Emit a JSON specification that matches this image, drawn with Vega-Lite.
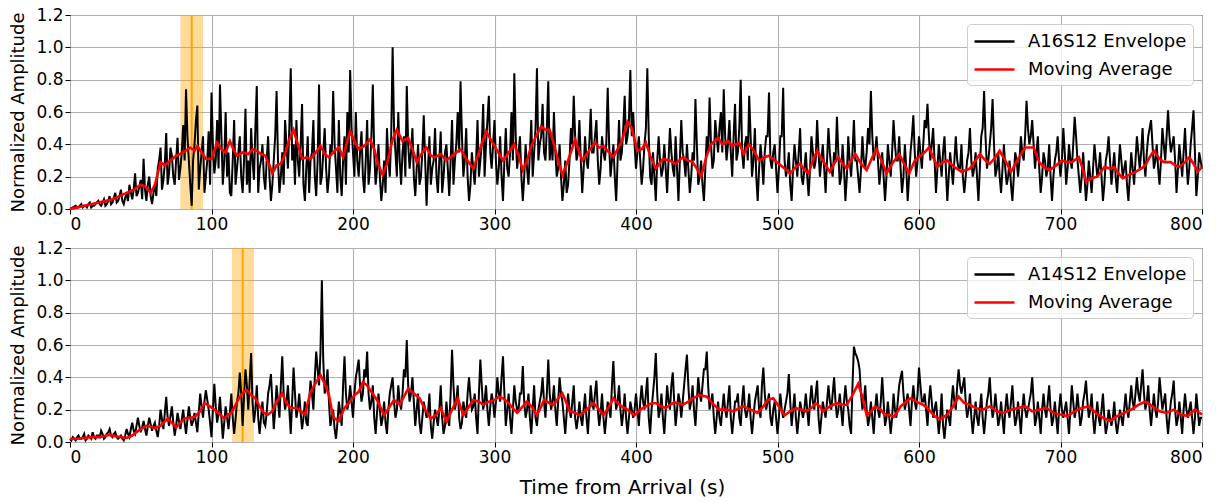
{
"$schema":"https://vega.github.io/schema/vega-lite/v6.json",
"padding":{"left":9,"top":5,"right":5,"bottom":3},
"background":"white",
"spacing":39,
"bounds":"flush",
"resolve":{"scale":{"color":"independent"},"legend":{"color":"independent"}},
"config":{
 "view":{"stroke":"black","strokeWidth":1},
 "axis":{"grid":true,"gridColor":"#b0b0b0","gridWidth":1.1,"domain":false,"tickColor":"black","tickSize":5,"tickWidth":1,"labelPadding":2,"labelFont":"DejaVu Sans","labelFontSize":17,"labelColor":"black","titleFont":"DejaVu Sans","titleFontSize":18,"titleFontWeight":"normal","titleColor":"black"},
 "legend":{"orient":"top-right","offset":9,"padding":6,"cornerRadius":4,"strokeColor":"#cccccc","fillColor":"rgba(255,255,255,0.8)","labelFont":"DejaVu Sans","labelFontSize":18,"labelColor":"black","symbolType":"M-1,0H3","symbolSize":400,"symbolStrokeWidth":2.5,"labelOffset":32,"rowPadding":7}
},
"datasets":{
"env":[{"t":0,"a":0,"b":0.02},{"t":2,"a":0.01,"b":0.03},{"t":4,"a":0.02,"b":0.01},{"t":6,"a":0.01,"b":0.04},{"t":8,"a":0.03,"b":0.02},{"t":10,"a":0.02,"b":0.05},{"t":12,"a":0.01,"b":0.02},{"t":14,"a":0.04,"b":0.03},{"t":16,"a":0.02,"b":0.06},{"t":18,"a":0.03,"b":0.02},
{"t":20,"a":0.05,"b":0.04},{"t":22,"a":0.02,"b":0.07},{"t":24,"a":0.06,"b":0.02},{"t":26,"a":0.03,"b":0.05},{"t":28,"a":0.08,"b":0.08},{"t":30,"a":0.04,"b":0.03},{"t":32,"a":0.1,"b":0.06},{"t":34,"a":0.05,"b":0.02},{"t":36,"a":0.12,"b":0.04},{"t":38,"a":0.03,"b":0.01},
{"t":40,"a":0.09,"b":0.08},{"t":42,"a":0.15,"b":0.03},{"t":44,"a":0.06,"b":0.12},{"t":46,"a":0.22,"b":0.05},{"t":48,"a":0.1,"b":0.15},{"t":50,"a":0.18,"b":0.06},{"t":52,"a":0.31,"b":0.13},{"t":54,"a":0.05,"b":0.04},{"t":56,"a":0.2,"b":0.15},{"t":58,"a":0.03,"b":0.07},
{"t":60,"a":0.15,"b":0.12},{"t":62,"a":0.25,"b":0.03},{"t":64,"a":0.38,"b":0.2},{"t":66,"a":0.18,"b":0.08},{"t":68,"a":0.47,"b":0.28},{"t":70,"a":0.22,"b":0.1},{"t":72,"a":0.33,"b":0.22},{"t":74,"a":0.15,"b":0.04},{"t":76,"a":0.44,"b":0.18},{"t":78,"a":0.25,"b":0.08},
{"t":80,"a":0.52,"b":0.2},{"t":82,"a":0.74,"b":0.05},{"t":84,"a":0.3,"b":0.22},{"t":86,"a":0.02,"b":0.1},{"t":88,"a":0.4,"b":0.18},{"t":90,"a":0.64,"b":0.06},{"t":92,"a":0.25,"b":0.3},{"t":94,"a":0.45,"b":0.15},{"t":96,"a":0.2,"b":0.32},{"t":98,"a":0.48,"b":0.2},
{"t":100,"a":0.72,"b":0.03},{"t":102,"a":0.22,"b":0.36},{"t":104,"a":0.55,"b":0.12},{"t":106,"a":0.77,"b":0.28},{"t":108,"a":0.15,"b":0.02},{"t":110,"a":0.6,"b":0.22},{"t":112,"a":0.35,"b":0.08},{"t":114,"a":0.08,"b":0.3},{"t":116,"a":0.55,"b":0.05},{"t":118,"a":0.25,"b":0.25},
{"t":120,"a":0.45,"b":0.43},{"t":122,"a":0.1,"b":0.1},{"t":124,"a":0.62,"b":0.45},{"t":126,"a":0.3,"b":0.2},{"t":128,"a":0.5,"b":0.55},{"t":130,"a":0.18,"b":0.12},{"t":132,"a":0.76,"b":0.35},{"t":134,"a":0.25,"b":0.05},{"t":136,"a":0.4,"b":0.25},{"t":138,"a":0.12,"b":0.1},
{"t":140,"a":0.45,"b":0.3},{"t":142,"a":0.05,"b":0.42},{"t":144,"a":0.3,"b":0.08},{"t":146,"a":0.73,"b":0.35},{"t":148,"a":0.1,"b":0.15},{"t":150,"a":0.35,"b":0.53},{"t":152,"a":0.55,"b":0.2},{"t":154,"a":0.25,"b":0.35},{"t":156,"a":0.87,"b":0.05},{"t":158,"a":0.4,"b":0.46},
{"t":160,"a":0.55,"b":0.15},{"t":162,"a":0.2,"b":0.3},{"t":164,"a":0.65,"b":0.08},{"t":166,"a":0.05,"b":0.25},{"t":168,"a":0.45,"b":0.1},{"t":170,"a":0.3,"b":0.38},{"t":172,"a":0.55,"b":0.2},{"t":174,"a":0.08,"b":0.56},{"t":176,"a":0.77,"b":0.35},{"t":178,"a":0.2,"b":1},
{"t":180,"a":0.5,"b":0.3},{"t":182,"a":0.1,"b":0.45},{"t":184,"a":0.4,"b":0.1},{"t":186,"a":0.73,"b":0.2},{"t":188,"a":0.25,"b":0.02},{"t":190,"a":0.55,"b":0.25},{"t":192,"a":0.08,"b":0.1},{"t":194,"a":0.45,"b":0.53},{"t":196,"a":0.6,"b":0.2},{"t":198,"a":0.86,"b":0.35},
{"t":200,"a":0.35,"b":0.15},{"t":202,"a":0.6,"b":0.4},{"t":204,"a":0.2,"b":0.51},{"t":206,"a":0.48,"b":0.25},{"t":208,"a":0.1,"b":0.45},{"t":210,"a":0.55,"b":0.56},{"t":212,"a":0.25,"b":0.2},{"t":214,"a":0.77,"b":0.35},{"t":216,"a":0.15,"b":0.05},{"t":218,"a":0.4,"b":0.3},
{"t":220,"a":0.05,"b":0.1},{"t":222,"a":0.3,"b":0.25},{"t":224,"a":0.5,"b":0.05},{"t":226,"a":0.2,"b":0.3},{"t":228,"a":1,"b":0.4},{"t":230,"a":0.35,"b":0.15},{"t":232,"a":0.6,"b":0.35},{"t":234,"a":0.15,"b":0.2},{"t":236,"a":0.45,"b":0.45},{"t":238,"a":0.76,"b":0.63},
{"t":240,"a":0.25,"b":0.25},{"t":242,"a":0.5,"b":0.4},{"t":244,"a":0.08,"b":0.1},{"t":246,"a":0.4,"b":0.3},{"t":248,"a":0.2,"b":0.05},{"t":250,"a":0.58,"b":0.25},{"t":252,"a":0.02,"b":0.15},{"t":254,"a":0.45,"b":0.3},{"t":256,"a":0.25,"b":0.02},{"t":258,"a":0.5,"b":0.2},
{"t":260,"a":0.1,"b":0.1},{"t":262,"a":0.48,"b":0.35},{"t":264,"a":0.2,"b":0.05},{"t":266,"a":0.4,"b":0.25},{"t":268,"a":0.08,"b":0.1},{"t":270,"a":0.55,"b":0.57},{"t":272,"a":0.3,"b":0.2},{"t":274,"a":0.6,"b":0.35},{"t":276,"a":0.79,"b":0.08},{"t":278,"a":0.2,"b":0.25},
{"t":280,"a":0.5,"b":0.15},{"t":282,"a":0.05,"b":0.4},{"t":284,"a":0.35,"b":0.2},{"t":286,"a":0.15,"b":0.3},{"t":288,"a":0.55,"b":0.05},{"t":290,"a":0.3,"b":0.51},{"t":292,"a":0.65,"b":0.2},{"t":294,"a":0.4,"b":0.35},{"t":296,"a":0.7,"b":0.1},{"t":298,"a":0.25,"b":0.3},
{"t":300,"a":0.55,"b":0.15},{"t":302,"a":0.15,"b":0.4},{"t":304,"a":0.45,"b":0.25},{"t":306,"a":0.05,"b":0.53},{"t":308,"a":0.5,"b":0.1},{"t":310,"a":0.2,"b":0.3},{"t":312,"a":0.6,"b":0.05},{"t":314,"a":0.84,"b":0.35},{"t":316,"a":0.25,"b":0.2},{"t":318,"a":0.45,"b":0.3},
{"t":320,"a":0.05,"b":0.47},{"t":322,"a":0.4,"b":0.15},{"t":324,"a":0.15,"b":0.3},{"t":326,"a":0.55,"b":0.05},{"t":328,"a":0.35,"b":0.35},{"t":330,"a":0.87,"b":0.1},{"t":332,"a":0.4,"b":0.25},{"t":334,"a":0.65,"b":0.4},{"t":336,"a":0.3,"b":0.15},{"t":338,"a":0.79,"b":0.51},
{"t":340,"a":0.45,"b":0.2},{"t":342,"a":0.6,"b":0.35},{"t":344,"a":0.2,"b":0.1},{"t":346,"a":0.4,"b":0.4},{"t":348,"a":0.05,"b":0.25},{"t":350,"a":0.3,"b":0.05},{"t":352,"a":0.15,"b":0.3},{"t":354,"a":0.5,"b":0.15},{"t":356,"a":0.7,"b":0.35},{"t":358,"a":0.3,"b":0.08},
{"t":360,"a":0.55,"b":0.25},{"t":362,"a":0.1,"b":0.1},{"t":364,"a":0.45,"b":0.3},{"t":366,"a":0.25,"b":0.05},{"t":368,"a":0.62,"b":0.35},{"t":370,"a":0.35,"b":0.2},{"t":372,"a":0.55,"b":0.38},{"t":374,"a":0.15,"b":0.1},{"t":376,"a":0.45,"b":0.3},{"t":378,"a":0.3,"b":0.05},
{"t":380,"a":0.75,"b":0.25},{"t":382,"a":0.2,"b":0.15},{"t":384,"a":0.4,"b":0.5},{"t":386,"a":0.05,"b":0.2},{"t":388,"a":0.55,"b":0.35},{"t":390,"a":0.35,"b":0.1},{"t":392,"a":0.7,"b":0.3},{"t":394,"a":0.45,"b":0.05},{"t":396,"a":0.86,"b":0.25},{"t":398,"a":0.6,"b":0.15},
{"t":400,"a":0.25,"b":0.3},{"t":402,"a":0.45,"b":0.1},{"t":404,"a":0.15,"b":0.35},{"t":406,"a":0.4,"b":0.2},{"t":408,"a":0.87,"b":0.4},{"t":410,"a":0.2,"b":0.05},{"t":412,"a":0.35,"b":0.3},{"t":414,"a":0.05,"b":0.55},{"t":416,"a":0.45,"b":0.15},{"t":418,"a":0.2,"b":0.3},
{"t":420,"a":0.4,"b":0.05},{"t":422,"a":0.1,"b":0.35},{"t":424,"a":0.5,"b":0.2},{"t":426,"a":0.25,"b":0.43},{"t":428,"a":0.45,"b":0.1},{"t":430,"a":0.05,"b":0.3},{"t":432,"a":0.55,"b":0.15},{"t":434,"a":0.3,"b":0.35},{"t":436,"a":0.4,"b":0.54},{"t":438,"a":0.1,"b":0.2},
{"t":440,"a":0.35,"b":0.35},{"t":442,"a":0.68,"b":0.1},{"t":444,"a":0.15,"b":0.4},{"t":446,"a":0.3,"b":0.25},{"t":448,"a":0.05,"b":0.45},{"t":450,"a":0.45,"b":0.56},{"t":452,"a":0.69,"b":0.2},{"t":454,"a":0.25,"b":0.3},{"t":456,"a":0.55,"b":0.05},{"t":458,"a":0.35,"b":0.25},
{"t":460,"a":0.6,"b":0.1},{"t":462,"a":0.74,"b":0.3},{"t":464,"a":0.3,"b":0.15},{"t":466,"a":0.55,"b":0.35},{"t":468,"a":0.2,"b":0.05},{"t":470,"a":0.65,"b":0.25},{"t":472,"a":0.35,"b":0.3},{"t":474,"a":0.8,"b":0.1},{"t":476,"a":0.25,"b":0.35},{"t":478,"a":0.45,"b":0.15},
{"t":480,"a":0.7,"b":0.3},{"t":482,"a":0.2,"b":0.05},{"t":484,"a":0.5,"b":0.25},{"t":486,"a":0.05,"b":0.35},{"t":488,"a":0.4,"b":0.15},{"t":490,"a":0.15,"b":0.46},{"t":492,"a":0.45,"b":0.2},{"t":494,"a":0.72,"b":0.3},{"t":496,"a":0.25,"b":0.1},{"t":498,"a":0.4,"b":0.25},
{"t":500,"a":0.1,"b":0.05},{"t":502,"a":0.45,"b":0.3},{"t":504,"a":0.75,"b":0.15},{"t":506,"a":0.2,"b":0.25},{"t":508,"a":0.35,"b":0.42},{"t":510,"a":0.05,"b":0.1},{"t":512,"a":0.4,"b":0.3},{"t":514,"a":0.2,"b":0.05},{"t":516,"a":0.5,"b":0.25},{"t":518,"a":0.15,"b":0.15},
{"t":520,"a":0.35,"b":0.3},{"t":522,"a":0.08,"b":0.1},{"t":524,"a":0.45,"b":0.35},{"t":526,"a":0.25,"b":0.2},{"t":528,"a":0.55,"b":0.38},{"t":530,"a":0.2,"b":0.05},{"t":532,"a":0.4,"b":0.25},{"t":534,"a":0.1,"b":0.15},{"t":536,"a":0.5,"b":0.35},{"t":538,"a":0.25,"b":0.2},
{"t":540,"a":0.35,"b":0.4},{"t":542,"a":0.57,"b":0.15},{"t":544,"a":0.15,"b":0.3},{"t":546,"a":0.4,"b":0.1},{"t":548,"a":0.05,"b":0.35},{"t":550,"a":0.45,"b":0.2},{"t":552,"a":0.2,"b":0.05},{"t":554,"a":0.55,"b":0.59},{"t":556,"a":0.3,"b":0.53},{"t":558,"a":0.1,"b":0.45},
{"t":560,"a":0.45,"b":0.2},{"t":562,"a":0.25,"b":0.35},{"t":564,"a":0.5,"b":0.1},{"t":566,"a":0.73,"b":0.25},{"t":568,"a":0.3,"b":0.05},{"t":570,"a":0.45,"b":0.3},{"t":572,"a":0.15,"b":0.15},{"t":574,"a":0.35,"b":0.4},{"t":576,"a":0.05,"b":0.1},{"t":578,"a":0.4,"b":0.25},
{"t":580,"a":0.2,"b":0.05},{"t":582,"a":0.55,"b":0.3},{"t":584,"a":0.3,"b":0.15},{"t":586,"a":0.45,"b":0.35},{"t":588,"a":0.1,"b":0.44},{"t":590,"a":0.4,"b":0.2},{"t":592,"a":0.05,"b":0.3},{"t":594,"a":0.35,"b":0.1},{"t":596,"a":0.58,"b":0.35},{"t":598,"a":0.2,"b":0.2},
{"t":600,"a":0.45,"b":0.46},{"t":602,"a":0.25,"b":0.25},{"t":604,"a":0.55,"b":0.3},{"t":606,"a":0.65,"b":0.1},{"t":608,"a":0.3,"b":0.35},{"t":610,"a":0.5,"b":0.15},{"t":612,"a":0.1,"b":0.25},{"t":614,"a":0.4,"b":0.05},{"t":616,"a":0.2,"b":0.3},{"t":618,"a":0.45,"b":0.02},
{"t":620,"a":0.05,"b":0.2},{"t":622,"a":0.35,"b":0.1},{"t":624,"a":0.15,"b":0.35},{"t":626,"a":0.45,"b":0.2},{"t":628,"a":0.25,"b":0.45},{"t":630,"a":0.4,"b":0.3},{"t":632,"a":0.1,"b":0.4},{"t":634,"a":0.3,"b":0.15},{"t":636,"a":0.5,"b":0.3},{"t":638,"a":0.2,"b":0.05},
{"t":640,"a":0.35,"b":0.25},{"t":642,"a":0.05,"b":0.1},{"t":644,"a":0.45,"b":0.3},{"t":646,"a":0.73,"b":0.05},{"t":648,"a":0.25,"b":0.25},{"t":650,"a":0.4,"b":0.4},{"t":652,"a":0.68,"b":0.15},{"t":654,"a":0.2,"b":0.3},{"t":656,"a":0.35,"b":0.1},{"t":658,"a":0.1,"b":0.25},
{"t":660,"a":0.4,"b":0.05},{"t":662,"a":0.15,"b":0.3},{"t":664,"a":0.3,"b":0.15},{"t":666,"a":0.05,"b":0.35},{"t":668,"a":0.35,"b":0.1},{"t":670,"a":0.2,"b":0.25},{"t":672,"a":0.45,"b":0.05},{"t":674,"a":0.3,"b":0.3},{"t":676,"a":0.67,"b":0.15},{"t":678,"a":0.4,"b":0.25},
{"t":680,"a":0.55,"b":0.4},{"t":682,"a":0.25,"b":0.1},{"t":684,"a":0.45,"b":0.25},{"t":686,"a":0.1,"b":0.05},{"t":688,"a":0.35,"b":0.3},{"t":690,"a":0.2,"b":0.15},{"t":692,"a":0.4,"b":0.35},{"t":694,"a":0.05,"b":0.1},{"t":696,"a":0.3,"b":0.25},{"t":698,"a":0.45,"b":0.05},
{"t":700,"a":0.2,"b":0.3},{"t":702,"a":0.5,"b":0.15},{"t":704,"a":0.15,"b":0.25},{"t":706,"a":0.4,"b":0.05},{"t":708,"a":0.25,"b":0.35},{"t":710,"a":0.57,"b":0.15},{"t":712,"a":0.3,"b":0.3},{"t":714,"a":0.1,"b":0.1},{"t":716,"a":0.35,"b":0.25},{"t":718,"a":0.05,"b":0.38},
{"t":720,"a":0.3,"b":0.15},{"t":722,"a":0.1,"b":0.3},{"t":724,"a":0.4,"b":0.05},{"t":726,"a":0.2,"b":0.25},{"t":728,"a":0.35,"b":0.1},{"t":730,"a":0.05,"b":0.3},{"t":732,"a":0.3,"b":0.05},{"t":734,"a":0.45,"b":0.2},{"t":736,"a":0.15,"b":0.1},{"t":738,"a":0.35,"b":0.25},
{"t":740,"a":0.1,"b":0.05},{"t":742,"a":0.4,"b":0.2},{"t":744,"a":0.2,"b":0.1},{"t":746,"a":0.3,"b":0.3},{"t":748,"a":0.05,"b":0.15},{"t":750,"a":0.35,"b":0.35},{"t":752,"a":0.15,"b":0.2},{"t":754,"a":0.45,"b":0.4},{"t":756,"a":0.25,"b":0.25},{"t":758,"a":0.5,"b":0.45},
{"t":760,"a":0.2,"b":0.2},{"t":762,"a":0.45,"b":0.35},{"t":764,"a":0.55,"b":0.1},{"t":766,"a":0.25,"b":0.3},{"t":768,"a":0.4,"b":0.15},{"t":770,"a":0.15,"b":0.4},{"t":772,"a":0.5,"b":0.2},{"t":774,"a":0.3,"b":0.3},{"t":776,"a":0.61,"b":0.05},{"t":778,"a":0.35,"b":0.25},
{"t":780,"a":0.45,"b":0.38},{"t":782,"a":0.1,"b":0.1},{"t":784,"a":0.4,"b":0.25},{"t":786,"a":0.2,"b":0.05},{"t":788,"a":0.5,"b":0.3},{"t":790,"a":0.15,"b":0.15},{"t":792,"a":0.4,"b":0.25},{"t":794,"a":0.61,"b":0.05},{"t":796,"a":0.08,"b":0.3},{"t":798,"a":0.35,"b":0.1},
{"t":800,"a":0.25,"b":0.15},
{"t":1,"a":0.005,"b":0.01},{"t":3,"a":0.015,"b":0.02},{"t":5,"a":0.01,"b":0.03},{"t":7,"a":0.02,"b":0.02},{"t":9,"a":0.01,"b":0.03},{"t":11,"a":0.02,"b":0.01},{"t":13,"a":0.03,"b":0.04},{"t":15,"a":0.01,"b":0.02},{"t":17,"a":0.02,"b":0.03},{"t":19,"a":0.04,"b":0.04},
{"t":21,"a":0.03,"b":0.03},{"t":23,"a":0.04,"b":0.05},{"t":25,"a":0.02,"b":0.03},{"t":27,"a":0.05,"b":0.06},{"t":29,"a":0.03,"b":0.04},{"t":31,"a":0.07,"b":0.05},{"t":33,"a":0.04,"b":0.03},{"t":35,"a":0.08,"b":0.03},{"t":37,"a":0.05,"b":0.02},{"t":39,"a":0.07,"b":0.04},
{"t":41,"a":0.05,"b":0.05},{"t":43,"a":0.1,"b":0.08},{"t":45,"a":0.12,"b":0.07},{"t":47,"a":0.08,"b":0.1},{"t":49,"a":0.14,"b":0.1},{"t":51,"a":0.06,"b":0.09},{"t":53,"a":0.12,"b":0.08},{"t":55,"a":0.15,"b":0.1},{"t":57,"a":0.08,"b":0.11},{"t":59,"a":0.1,"b":0.1},
{"t":61,"a":0.08,"b":0.07},{"t":63,"a":0.3,"b":0.1},{"t":65,"a":0.12,"b":0.14},{"t":67,"a":0.28,"b":0.18},{"t":69,"a":0.15,"b":0.15},{"t":71,"a":0.38,"b":0.16},{"t":73,"a":0.2,"b":0.12},{"t":75,"a":0.3,"b":0.1},{"t":77,"a":0.18,"b":0.13},{"t":79,"a":0.35,"b":0.14},
{"t":81,"a":0.3,"b":0.12},{"t":83,"a":0.45,"b":0.14},{"t":85,"a":0.15,"b":0.15},{"t":87,"a":0.3,"b":0.13},{"t":89,"a":0.55,"b":0.12},{"t":91,"a":0.12,"b":0.18},{"t":93,"a":0.35,"b":0.22},{"t":95,"a":0.1,"b":0.25},{"t":97,"a":0.3,"b":0.26},{"t":99,"a":0.15,"b":0.12},
{"t":101,"a":0.4,"b":0.2},{"t":103,"a":0.3,"b":0.22},{"t":105,"a":0.25,"b":0.18},{"t":107,"a":0.45,"b":0.15},{"t":109,"a":0.3,"b":0.12},{"t":111,"a":0.2,"b":0.15},{"t":113,"a":0.1,"b":0.18},{"t":115,"a":0.3,"b":0.15},{"t":117,"a":0.15,"b":0.14},{"t":119,"a":0.35,"b":0.3},
{"t":121,"a":0.2,"b":0.3},{"t":123,"a":0.3,"b":0.28},{"t":125,"a":0.15,"b":0.35},{"t":127,"a":0.1,"b":0.38},{"t":129,"a":0.3,"b":0.25},{"t":131,"a":0.5,"b":0.2},{"t":133,"a":0.1,"b":0.15},{"t":135,"a":0.3,"b":0.15},{"t":137,"a":0.2,"b":0.12},{"t":139,"a":0.3,"b":0.18},
{"t":141,"a":0.2,"b":0.35},{"t":143,"a":0.15,"b":0.25},{"t":145,"a":0.45,"b":0.2},{"t":147,"a":0.3,"b":0.25},{"t":149,"a":0.2,"b":0.35},{"t":151,"a":0.15,"b":0.3},{"t":153,"a":0.4,"b":0.25},{"t":155,"a":0.5,"b":0.2},{"t":157,"a":0.3,"b":0.25},{"t":159,"a":0.15,"b":0.3},
{"t":161,"a":0.3,"b":0.2},{"t":163,"a":0.4,"b":0.18},{"t":165,"a":0.15,"b":0.15},{"t":167,"a":0.25,"b":0.12},{"t":169,"a":0.1,"b":0.25},{"t":171,"a":0.35,"b":0.3},{"t":173,"a":0.2,"b":0.4},{"t":175,"a":0.3,"b":0.45},{"t":177,"a":0.15,"b":0.55},{"t":179,"a":0.35,"b":0.5},
{"t":181,"a":0.25,"b":0.35},{"t":183,"a":0.2,"b":0.25},{"t":185,"a":0.35,"b":0.15},{"t":187,"a":0.4,"b":0.08},{"t":189,"a":0.1,"b":0.12},{"t":191,"a":0.2,"b":0.18},{"t":193,"a":0.3,"b":0.35},{"t":195,"a":0.15,"b":0.3},{"t":197,"a":0.35,"b":0.25},{"t":199,"a":0.5,"b":0.25},
{"t":201,"a":0.2,"b":0.3},{"t":203,"a":0.3,"b":0.45},{"t":205,"a":0.35,"b":0.35},{"t":207,"a":0.2,"b":0.3},{"t":209,"a":0.3,"b":0.4},{"t":211,"a":0.15,"b":0.3},{"t":213,"a":0.45,"b":0.25},{"t":215,"a":0.35,"b":0.15},{"t":217,"a":0.25,"b":0.18},{"t":219,"a":0.2,"b":0.2},
{"t":221,"a":0.15,"b":0.15},{"t":223,"a":0.1,"b":0.12},{"t":225,"a":0.3,"b":0.2},{"t":227,"a":0.45,"b":0.35},{"t":229,"a":0.5,"b":0.25},{"t":231,"a":0.2,"b":0.2},{"t":233,"a":0.3,"b":0.25},{"t":235,"a":0.35,"b":0.3},{"t":237,"a":0.2,"b":0.4},{"t":239,"a":0.4,"b":0.35},
{"t":241,"a":0.35,"b":0.3},{"t":243,"a":0.2,"b":0.25},{"t":245,"a":0.25,"b":0.2},{"t":247,"a":0.15,"b":0.12},{"t":249,"a":0.35,"b":0.15},{"t":251,"a":0.3,"b":0.2},{"t":253,"a":0.25,"b":0.18},{"t":255,"a":0.15,"b":0.1},{"t":257,"a":0.3,"b":0.12},{"t":259,"a":0.2,"b":0.15},
{"t":261,"a":0.3,"b":0.2},{"t":263,"a":0.1,"b":0.15},{"t":265,"a":0.35,"b":0.1},{"t":267,"a":0.25,"b":0.15},{"t":269,"a":0.3,"b":0.3},{"t":271,"a":0.15,"b":0.35},{"t":273,"a":0.4,"b":0.25},{"t":275,"a":0.35,"b":0.15},{"t":277,"a":0.45,"b":0.12},{"t":279,"a":0.3,"b":0.2},
{"t":281,"a":0.2,"b":0.3},{"t":283,"a":0.15,"b":0.28},{"t":285,"a":0.25,"b":0.22},{"t":287,"a":0.3,"b":0.15},{"t":289,"a":0.2,"b":0.3},{"t":291,"a":0.4,"b":0.35},{"t":293,"a":0.2,"b":0.25},{"t":295,"a":0.55,"b":0.2},{"t":297,"a":0.35,"b":0.22},{"t":299,"a":0.4,"b":0.25},
{"t":301,"a":0.3,"b":0.25},{"t":303,"a":0.25,"b":0.3},{"t":305,"a":0.2,"b":0.4},{"t":307,"a":0.3,"b":0.3},{"t":309,"a":0.25,"b":0.2},{"t":311,"a":0.35,"b":0.15},{"t":313,"a":0.3,"b":0.2},{"t":315,"a":0.45,"b":0.25},{"t":317,"a":0.35,"b":0.2},{"t":319,"a":0.2,"b":0.3},
{"t":321,"a":0.2,"b":0.25},{"t":323,"a":0.25,"b":0.2},{"t":325,"a":0.35,"b":0.15},{"t":327,"a":0.2,"b":0.2},{"t":329,"a":0.5,"b":0.15},{"t":331,"a":0.3,"b":0.2},{"t":333,"a":0.45,"b":0.3},{"t":335,"a":0.35,"b":0.25},{"t":337,"a":0.5,"b":0.3},{"t":339,"a":0.3,"b":0.3},
{"t":341,"a":0.3,"b":0.25},{"t":343,"a":0.35,"b":0.2},{"t":345,"a":0.25,"b":0.25},{"t":347,"a":0.2,"b":0.3},{"t":349,"a":0.15,"b":0.15},{"t":351,"a":0.1,"b":0.18},{"t":353,"a":0.3,"b":0.2},{"t":355,"a":0.4,"b":0.25},{"t":357,"a":0.45,"b":0.15},{"t":359,"a":0.35,"b":0.15},
{"t":361,"a":0.3,"b":0.15},{"t":363,"a":0.25,"b":0.2},{"t":365,"a":0.3,"b":0.15},{"t":367,"a":0.4,"b":0.2},{"t":369,"a":0.35,"b":0.25},{"t":371,"a":0.45,"b":0.3},{"t":373,"a":0.3,"b":0.2},{"t":375,"a":0.25,"b":0.18},{"t":377,"a":0.35,"b":0.15},{"t":379,"a":0.4,"b":0.15},
{"t":381,"a":0.4,"b":0.2},{"t":383,"a":0.3,"b":0.35},{"t":385,"a":0.2,"b":0.3},{"t":387,"a":0.3,"b":0.25},{"t":389,"a":0.3,"b":0.2},{"t":391,"a":0.5,"b":0.18},{"t":393,"a":0.4,"b":0.15},{"t":395,"a":0.55,"b":0.15},{"t":397,"a":0.45,"b":0.2},{"t":399,"a":0.4,"b":0.2},
{"t":401,"a":0.35,"b":0.2},{"t":403,"a":0.3,"b":0.25},{"t":405,"a":0.25,"b":0.25},{"t":407,"a":0.5,"b":0.3},{"t":409,"a":0.45,"b":0.15},{"t":411,"a":0.15,"b":0.2},{"t":413,"a":0.2,"b":0.4},{"t":415,"a":0.3,"b":0.3},{"t":417,"a":0.3,"b":0.2},{"t":419,"a":0.25,"b":0.15},
{"t":421,"a":0.25,"b":0.2},{"t":423,"a":0.3,"b":0.25},{"t":425,"a":0.35,"b":0.35},{"t":427,"a":0.2,"b":0.25},{"t":429,"a":0.25,"b":0.2},{"t":431,"a":0.3,"b":0.25},{"t":433,"a":0.35,"b":0.25},{"t":435,"a":0.2,"b":0.45},{"t":437,"a":0.25,"b":0.35},{"t":439,"a":0.2,"b":0.25},
{"t":441,"a":0.3,"b":0.2},{"t":443,"a":0.4,"b":0.25},{"t":445,"a":0.2,"b":0.3},{"t":447,"a":0.15,"b":0.35},{"t":449,"a":0.25,"b":0.45},{"t":451,"a":0.35,"b":0.35},{"t":453,"a":0.4,"b":0.25},{"t":455,"a":0.3,"b":0.15},{"t":457,"a":0.45,"b":0.15},{"t":459,"a":0.5,"b":0.15},
{"t":461,"a":0.35,"b":0.2},{"t":463,"a":0.45,"b":0.2},{"t":465,"a":0.4,"b":0.25},{"t":467,"a":0.35,"b":0.15},{"t":469,"a":0.45,"b":0.15},{"t":471,"a":0.3,"b":0.25},{"t":473,"a":0.5,"b":0.15},{"t":475,"a":0.35,"b":0.25},{"t":477,"a":0.4,"b":0.2},{"t":479,"a":0.3,"b":0.2},
{"t":481,"a":0.45,"b":0.15},{"t":483,"a":0.3,"b":0.15},{"t":485,"a":0.2,"b":0.3},{"t":487,"a":0.25,"b":0.2},{"t":489,"a":0.3,"b":0.35},{"t":491,"a":0.35,"b":0.3},{"t":493,"a":0.45,"b":0.25},{"t":495,"a":0.3,"b":0.15},{"t":497,"a":0.35,"b":0.2},{"t":499,"a":0.25,"b":0.15},
{"t":501,"a":0.25,"b":0.15},{"t":503,"a":0.45,"b":0.2},{"t":505,"a":0.3,"b":0.2},{"t":507,"a":0.25,"b":0.3},{"t":509,"a":0.15,"b":0.25},{"t":511,"a":0.25,"b":0.2},{"t":513,"a":0.3,"b":0.15},{"t":515,"a":0.35,"b":0.15},{"t":517,"a":0.2,"b":0.2},{"t":519,"a":0.25,"b":0.2},
{"t":521,"a":0.2,"b":0.2},{"t":523,"a":0.25,"b":0.25},{"t":525,"a":0.35,"b":0.25},{"t":527,"a":0.3,"b":0.3},{"t":529,"a":0.35,"b":0.15},{"t":531,"a":0.3,"b":0.15},{"t":533,"a":0.25,"b":0.2},{"t":535,"a":0.3,"b":0.25},{"t":537,"a":0.35,"b":0.25},{"t":539,"a":0.2,"b":0.3},
{"t":541,"a":0.3,"b":0.25},{"t":543,"a":0.35,"b":0.2},{"t":545,"a":0.2,"b":0.2},{"t":547,"a":0.25,"b":0.25},{"t":549,"a":0.2,"b":0.25},{"t":551,"a":0.3,"b":0.1},{"t":553,"a":0.35,"b":0.35},{"t":555,"a":0.3,"b":0.55},{"t":557,"a":0.2,"b":0.5},{"t":559,"a":0.25,"b":0.3},
{"t":561,"a":0.3,"b":0.25},{"t":563,"a":0.35,"b":0.2},{"t":565,"a":0.4,"b":0.15},{"t":567,"a":0.45,"b":0.15},{"t":569,"a":0.35,"b":0.2},{"t":571,"a":0.3,"b":0.2},{"t":573,"a":0.25,"b":0.25},{"t":575,"a":0.2,"b":0.25},{"t":577,"a":0.2,"b":0.15},{"t":579,"a":0.3,"b":0.15},
{"t":581,"a":0.35,"b":0.15},{"t":583,"a":0.4,"b":0.2},{"t":585,"a":0.3,"b":0.25},{"t":587,"a":0.25,"b":0.4},{"t":589,"a":0.2,"b":0.3},{"t":591,"a":0.25,"b":0.25},{"t":593,"a":0.2,"b":0.2},{"t":595,"a":0.45,"b":0.25},{"t":597,"a":0.35,"b":0.25},{"t":599,"a":0.3,"b":0.3},
{"t":601,"a":0.35,"b":0.35},{"t":603,"a":0.4,"b":0.25},{"t":605,"a":0.5,"b":0.2},{"t":607,"a":0.45,"b":0.25},{"t":609,"a":0.4,"b":0.25},{"t":611,"a":0.3,"b":0.2},{"t":613,"a":0.25,"b":0.15},{"t":615,"a":0.3,"b":0.15},{"t":617,"a":0.35,"b":0.1},{"t":619,"a":0.25,"b":0.12},
{"t":621,"a":0.2,"b":0.15},{"t":623,"a":0.25,"b":0.25},{"t":625,"a":0.3,"b":0.25},{"t":627,"a":0.3,"b":0.35},{"t":629,"a":0.25,"b":0.35},{"t":631,"a":0.2,"b":0.35},{"t":633,"a":0.2,"b":0.25},{"t":635,"a":0.35,"b":0.2},{"t":637,"a":0.3,"b":0.15},{"t":639,"a":0.25,"b":0.15},
{"t":641,"a":0.2,"b":0.15},{"t":643,"a":0.25,"b":0.2},{"t":645,"a":0.5,"b":0.15},{"t":647,"a":0.45,"b":0.15},{"t":649,"a":0.3,"b":0.3},{"t":651,"a":0.5,"b":0.25},{"t":653,"a":0.4,"b":0.2},{"t":655,"a":0.25,"b":0.2},{"t":657,"a":0.2,"b":0.15},{"t":659,"a":0.25,"b":0.15},
{"t":661,"a":0.25,"b":0.2},{"t":663,"a":0.2,"b":0.2},{"t":665,"a":0.15,"b":0.25},{"t":667,"a":0.2,"b":0.2},{"t":669,"a":0.3,"b":0.15},{"t":671,"a":0.3,"b":0.15},{"t":673,"a":0.35,"b":0.2},{"t":675,"a":0.45,"b":0.2},{"t":677,"a":0.5,"b":0.2},{"t":679,"a":0.45,"b":0.3},
{"t":681,"a":0.4,"b":0.25},{"t":683,"a":0.35,"b":0.15},{"t":685,"a":0.25,"b":0.15},{"t":687,"a":0.2,"b":0.2},{"t":689,"a":0.3,"b":0.2},{"t":691,"a":0.25,"b":0.25},{"t":693,"a":0.2,"b":0.2},{"t":695,"a":0.2,"b":0.15},{"t":697,"a":0.35,"b":0.15},{"t":699,"a":0.3,"b":0.2},
{"t":701,"a":0.3,"b":0.2},{"t":703,"a":0.35,"b":0.2},{"t":705,"a":0.25,"b":0.15},{"t":707,"a":0.3,"b":0.2},{"t":709,"a":0.4,"b":0.25},{"t":711,"a":0.45,"b":0.2},{"t":713,"a":0.2,"b":0.2},{"t":715,"a":0.2,"b":0.15},{"t":717,"a":0.2,"b":0.3},{"t":719,"a":0.15,"b":0.25},
{"t":721,"a":0.2,"b":0.2},{"t":723,"a":0.25,"b":0.15},{"t":725,"a":0.3,"b":0.15},{"t":727,"a":0.25,"b":0.15},{"t":729,"a":0.2,"b":0.2},{"t":731,"a":0.15,"b":0.15},{"t":733,"a":0.35,"b":0.1},{"t":735,"a":0.3,"b":0.15},{"t":737,"a":0.25,"b":0.15},{"t":739,"a":0.2,"b":0.12},
{"t":741,"a":0.25,"b":0.12},{"t":743,"a":0.3,"b":0.15},{"t":745,"a":0.25,"b":0.2},{"t":747,"a":0.15,"b":0.2},{"t":749,"a":0.2,"b":0.25},{"t":751,"a":0.25,"b":0.25},{"t":753,"a":0.3,"b":0.3},{"t":755,"a":0.35,"b":0.3},{"t":757,"a":0.35,"b":0.35},{"t":759,"a":0.3,"b":0.3},
{"t":761,"a":0.35,"b":0.25},{"t":763,"a":0.5,"b":0.2},{"t":765,"a":0.4,"b":0.2},{"t":767,"a":0.3,"b":0.2},{"t":769,"a":0.25,"b":0.25},{"t":771,"a":0.3,"b":0.3},{"t":773,"a":0.4,"b":0.25},{"t":775,"a":0.45,"b":0.15},{"t":777,"a":0.45,"b":0.15},{"t":779,"a":0.4,"b":0.3},
{"t":781,"a":0.3,"b":0.2},{"t":783,"a":0.25,"b":0.15},{"t":785,"a":0.3,"b":0.15},{"t":787,"a":0.35,"b":0.2},{"t":789,"a":0.3,"b":0.2},{"t":791,"a":0.25,"b":0.2},{"t":793,"a":0.5,"b":0.15},{"t":795,"a":0.35,"b":0.15},{"t":797,"a":0.2,"b":0.2},{"t":799,"a":0.3,"b":0.15}],
"ma1":[{"t":0,"v":0},{"t":5,"v":0.01},{"t":10,"v":0.02},{"t":15,"v":0.03},{"t":20,"v":0.04},{"t":25,"v":0.05},{"t":30,"v":0.06},{"t":35,"v":0.08},{"t":40,"v":0.1},{"t":45,"v":0.12},{"t":50,"v":0.15},{"t":53,"v":0.14},{"t":57,"v":0.1},{"t":60,"v":0.15},{"t":64,"v":0.29},{"t":67,"v":0.27},{"t":71,"v":0.3},{"t":75,"v":0.33},{"t":80,"v":0.35},{"t":85,"v":0.38},{"t":88,"v":0.36},{"t":90,"v":0.39},{"t":93,"v":0.35},{"t":96,"v":0.31},{"t":100,"v":0.31},{"t":104,"v":0.41},{"t":107,"v":0.37},{"t":110,"v":0.35},{"t":113,"v":0.42},{"t":116,"v":0.36},{"t":118,"v":0.33},{"t":122,"v":0.35},{"t":126,"v":0.34},{"t":129,"v":0.37},{"t":132,"v":0.36},{"t":135,"v":0.34},{"t":138,"v":0.33},{"t":141,"v":0.27},{"t":143,"v":0.22},{"t":146,"v":0.27},{"t":149,"v":0.28},{"t":152,"v":0.34},{"t":155,"v":0.43},{"t":158,"v":0.49},{"t":161,"v":0.4},{"t":164,"v":0.31},{"t":167,"v":0.32},{"t":170,"v":0.31},{"t":173,"v":0.34},{"t":177,"v":0.39},{"t":180,"v":0.34},{"t":183,"v":0.32},{"t":187,"v":0.36},{"t":190,"v":0.38},{"t":193,"v":0.32},{"t":196,"v":0.42},{"t":198,"v":0.48},{"t":201,"v":0.42},{"t":204,"v":0.37},{"t":208,"v":0.39},{"t":212,"v":0.43},{"t":215,"v":0.37},{"t":218,"v":0.27},{"t":221,"v":0.21},{"t":224,"v":0.28},{"t":228,"v":0.43},{"t":231,"v":0.49},{"t":235,"v":0.42},{"t":239,"v":0.44},{"t":242,"v":0.37},{"t":245,"v":0.29},{"t":249,"v":0.35},{"t":252,"v":0.38},{"t":255,"v":0.33},{"t":258,"v":0.32},{"t":262,"v":0.34},{"t":266,"v":0.3},{"t":270,"v":0.33},{"t":273,"v":0.35},{"t":276,"v":0.37},{"t":280,"v":0.31},{"t":285,"v":0.25},{"t":289,"v":0.35},{"t":294,"v":0.48},{"t":298,"v":0.42},{"t":302,"v":0.36},{"t":306,"v":0.3},{"t":310,"v":0.35},{"t":314,"v":0.4},{"t":317,"v":0.33},{"t":320,"v":0.24},{"t":323,"v":0.3},{"t":326,"v":0.39},{"t":330,"v":0.46},{"t":333,"v":0.51},{"t":336,"v":0.49},{"t":339,"v":0.49},{"t":342,"v":0.4},{"t":345,"v":0.3},{"t":348,"v":0.21},{"t":352,"v":0.3},{"t":357,"v":0.43},{"t":362,"v":0.3},{"t":366,"v":0.35},{"t":371,"v":0.41},{"t":374,"v":0.38},{"t":377,"v":0.39},{"t":380,"v":0.36},{"t":384,"v":0.32},{"t":387,"v":0.37},{"t":390,"v":0.42},{"t":394,"v":0.54},{"t":397,"v":0.5},{"t":401,"v":0.36},{"t":404,"v":0.37},{"t":407,"v":0.41},{"t":410,"v":0.33},{"t":414,"v":0.25},{"t":419,"v":0.31},{"t":424,"v":0.3},{"t":428,"v":0.28},{"t":433,"v":0.32},{"t":437,"v":0.3},{"t":440,"v":0.29},{"t":443,"v":0.25},{"t":446,"v":0.2},{"t":450,"v":0.33},{"t":453,"v":0.4},{"t":458,"v":0.44},{"t":461,"v":0.4},{"t":465,"v":0.42},{"t":468,"v":0.39},{"t":473,"v":0.41},{"t":476,"v":0.34},{"t":480,"v":0.4},{"t":484,"v":0.35},{"t":487,"v":0.3},{"t":491,"v":0.32},{"t":494,"v":0.33},{"t":498,"v":0.3},{"t":501,"v":0.28},{"t":505,"v":0.25},{"t":509,"v":0.22},{"t":513,"v":0.26},{"t":516,"v":0.28},{"t":519,"v":0.24},{"t":522,"v":0.22},{"t":525,"v":0.3},{"t":528,"v":0.36},{"t":532,"v":0.3},{"t":537,"v":0.23},{"t":540,"v":0.28},{"t":543,"v":0.32},{"t":546,"v":0.28},{"t":549,"v":0.25},{"t":552,"v":0.3},{"t":555,"v":0.34},{"t":559,"v":0.28},{"t":563,"v":0.24},{"t":567,"v":0.32},{"t":570,"v":0.37},{"t":574,"v":0.29},{"t":577,"v":0.22},{"t":581,"v":0.28},{"t":586,"v":0.34},{"t":590,"v":0.27},{"t":593,"v":0.22},{"t":597,"v":0.3},{"t":601,"v":0.33},{"t":604,"v":0.35},{"t":607,"v":0.38},{"t":610,"v":0.32},{"t":613,"v":0.26},{"t":617,"v":0.29},{"t":620,"v":0.3},{"t":625,"v":0.26},{"t":630,"v":0.23},{"t":636,"v":0.25},{"t":640,"v":0.3},{"t":643,"v":0.34},{"t":647,"v":0.3},{"t":650,"v":0.28},{"t":654,"v":0.32},{"t":657,"v":0.36},{"t":661,"v":0.3},{"t":665,"v":0.23},{"t":670,"v":0.31},{"t":675,"v":0.38},{"t":681,"v":0.38},{"t":685,"v":0.29},{"t":688,"v":0.26},{"t":692,"v":0.24},{"t":697,"v":0.27},{"t":701,"v":0.3},{"t":705,"v":0.29},{"t":708,"v":0.29},{"t":713,"v":0.32},{"t":716,"v":0.24},{"t":718,"v":0.17},{"t":722,"v":0.19},{"t":726,"v":0.2},{"t":731,"v":0.26},{"t":735,"v":0.25},{"t":738,"v":0.26},{"t":741,"v":0.22},{"t":744,"v":0.19},{"t":748,"v":0.21},{"t":753,"v":0.23},{"t":757,"v":0.25},{"t":760,"v":0.27},{"t":763,"v":0.32},{"t":766,"v":0.36},{"t":770,"v":0.31},{"t":773,"v":0.29},{"t":778,"v":0.29},{"t":781,"v":0.27},{"t":784,"v":0.26},{"t":788,"v":0.29},{"t":791,"v":0.32},{"t":794,"v":0.28},{"t":797,"v":0.23},{"t":800,"v":0.26}],
"ma2":[{"t":0,"v":0.02},{"t":5,"v":0.02},{"t":10,"v":0.025},{"t":15,"v":0.03},{"t":20,"v":0.03},{"t":24,"v":0.035},{"t":28,"v":0.045},{"t":32,"v":0.035},{"t":36,"v":0.03},{"t":40,"v":0.025},{"t":44,"v":0.04},{"t":49,"v":0.075},{"t":54,"v":0.1},{"t":57,"v":0.095},{"t":60,"v":0.085},{"t":64,"v":0.1},{"t":69,"v":0.145},{"t":72,"v":0.12},{"t":75,"v":0.09},{"t":78,"v":0.12},{"t":81,"v":0.145},{"t":85,"v":0.15},{"t":88,"v":0.155},{"t":92,"v":0.19},{"t":95,"v":0.24},{"t":99,"v":0.22},{"t":102,"v":0.2},{"t":106,"v":0.17},{"t":109,"v":0.145},{"t":112,"v":0.17},{"t":114,"v":0.18},{"t":117,"v":0.23},{"t":120,"v":0.28},{"t":123,"v":0.31},{"t":125,"v":0.32},{"t":128,"v":0.29},{"t":131,"v":0.27},{"t":134,"v":0.22},{"t":137,"v":0.18},{"t":140,"v":0.17},{"t":143,"v":0.19},{"t":146,"v":0.25},{"t":150,"v":0.3},{"t":153,"v":0.24},{"t":156,"v":0.21},{"t":160,"v":0.21},{"t":163,"v":0.19},{"t":166,"v":0.17},{"t":170,"v":0.31},{"t":174,"v":0.37},{"t":177,"v":0.415},{"t":180,"v":0.36},{"t":183,"v":0.29},{"t":186,"v":0.15},{"t":190,"v":0.13},{"t":194,"v":0.21},{"t":197,"v":0.24},{"t":201,"v":0.29},{"t":204,"v":0.31},{"t":207,"v":0.37},{"t":210,"v":0.35},{"t":213,"v":0.31},{"t":217,"v":0.26},{"t":222,"v":0.165},{"t":226,"v":0.22},{"t":229,"v":0.26},{"t":233,"v":0.23},{"t":236,"v":0.28},{"t":239,"v":0.33},{"t":243,"v":0.3},{"t":247,"v":0.27},{"t":251,"v":0.2},{"t":255,"v":0.145},{"t":259,"v":0.17},{"t":262,"v":0.21},{"t":266,"v":0.125},{"t":270,"v":0.2},{"t":274,"v":0.27},{"t":278,"v":0.165},{"t":282,"v":0.22},{"t":285,"v":0.26},{"t":289,"v":0.25},{"t":292,"v":0.23},{"t":296,"v":0.25},{"t":300,"v":0.26},{"t":303,"v":0.28},{"t":306,"v":0.27},{"t":309,"v":0.25},{"t":313,"v":0.21},{"t":316,"v":0.18},{"t":320,"v":0.22},{"t":323,"v":0.25},{"t":327,"v":0.21},{"t":330,"v":0.165},{"t":333,"v":0.22},{"t":335,"v":0.26},{"t":339,"v":0.24},{"t":342,"v":0.23},{"t":345,"v":0.27},{"t":348,"v":0.3},{"t":351,"v":0.24},{"t":353,"v":0.19},{"t":357,"v":0.18},{"t":360,"v":0.165},{"t":365,"v":0.2},{"t":370,"v":0.24},{"t":374,"v":0.2},{"t":377,"v":0.165},{"t":381,"v":0.22},{"t":384,"v":0.27},{"t":387,"v":0.24},{"t":390,"v":0.22},{"t":394,"v":0.2},{"t":399,"v":0.165},{"t":403,"v":0.2},{"t":407,"v":0.22},{"t":411,"v":0.24},{"t":414,"v":0.24},{"t":418,"v":0.22},{"t":421,"v":0.21},{"t":424,"v":0.23},{"t":427,"v":0.245},{"t":430,"v":0.24},{"t":433,"v":0.23},{"t":437,"v":0.25},{"t":440,"v":0.27},{"t":445,"v":0.29},{"t":450,"v":0.28},{"t":455,"v":0.23},{"t":459,"v":0.2},{"t":464,"v":0.2},{"t":469,"v":0.19},{"t":473,"v":0.21},{"t":476,"v":0.22},{"t":481,"v":0.2},{"t":486,"v":0.18},{"t":490,"v":0.22},{"t":493,"v":0.26},{"t":497,"v":0.27},{"t":501,"v":0.22},{"t":505,"v":0.165},{"t":509,"v":0.19},{"t":513,"v":0.21},{"t":517,"v":0.2},{"t":520,"v":0.19},{"t":524,"v":0.21},{"t":527,"v":0.24},{"t":530,"v":0.22},{"t":532,"v":0.19},{"t":537,"v":0.22},{"t":542,"v":0.24},{"t":546,"v":0.23},{"t":549,"v":0.23},{"t":553,"v":0.29},{"t":557,"v":0.36},{"t":560,"v":0.28},{"t":563,"v":0.165},{"t":566,"v":0.19},{"t":569,"v":0.22},{"t":573,"v":0.2},{"t":576,"v":0.165},{"t":579,"v":0.17},{"t":582,"v":0.155},{"t":585,"v":0.19},{"t":587,"v":0.22},{"t":591,"v":0.25},{"t":594,"v":0.27},{"t":598,"v":0.25},{"t":603,"v":0.23},{"t":607,"v":0.2},{"t":611,"v":0.16},{"t":615,"v":0.14},{"t":620,"v":0.17},{"t":624,"v":0.22},{"t":628,"v":0.28},{"t":632,"v":0.24},{"t":636,"v":0.23},{"t":640,"v":0.21},{"t":645,"v":0.2},{"t":650,"v":0.22},{"t":655,"v":0.19},{"t":660,"v":0.18},{"t":665,"v":0.2},{"t":670,"v":0.21},{"t":675,"v":0.22},{"t":680,"v":0.19},{"t":685,"v":0.2},{"t":690,"v":0.21},{"t":695,"v":0.18},{"t":700,"v":0.17},{"t":705,"v":0.16},{"t":710,"v":0.19},{"t":715,"v":0.21},{"t":720,"v":0.22},{"t":725,"v":0.18},{"t":730,"v":0.15},{"t":735,"v":0.13},{"t":740,"v":0.16},{"t":745,"v":0.18},{"t":750,"v":0.2},{"t":755,"v":0.23},{"t":760,"v":0.25},{"t":765,"v":0.22},{"t":770,"v":0.19},{"t":775,"v":0.18},{"t":780,"v":0.2},{"t":785,"v":0.17},{"t":790,"v":0.16},{"t":795,"v":0.2},{"t":800,"v":0.17}]
},
"vconcat":[
{
 "width":1132,"height":194,
 "layer":[
  {"data":{"values":[{"start":78,"end":94}]},"mark":{"type":"rect","color":"#ffa500","opacity":0.4},
   "encoding":{"x":{"field":"start","type":"quantitative","scale":{"domain":[0,800],"nice":false},"axis":{"title":null,"values":[0,100,200,300,400,500,600,700,800]}},"x2":{"field":"end"}}},
  {"data":{"values":[{"pick":86}]},"mark":{"type":"rule","color":"#ffa500","strokeWidth":2},
   "encoding":{"x":{"field":"pick","type":"quantitative","axis":{"title":null,"values":[0,100,200,300,400,500,600,700,800]}}}},
  {"data":{"name":"env"},"mark":{"type":"line","strokeWidth":2},
   "encoding":{"x":{"field":"t","type":"quantitative","axis":{"title":null,"values":[0,100,200,300,400,500,600,700,800]}},
    "y":{"field":"a","type":"quantitative","scale":{"domain":[0,1.2],"nice":false},"axis":{"title":"Normalized Amplitude","values":[0,0.2,0.4,0.6,0.8,1.0,1.2],"format":".1f","titlePadding":8}},
    "color":{"datum":"A16S12 Envelope","type":"nominal","scale":{"domain":["A16S12 Envelope","Moving Average"],"range":["black","red"]},"legend":{"title":null}}}},
  {"data":{"name":"ma1"},"mark":{"type":"line","strokeWidth":2.6},
   "encoding":{"x":{"field":"t","type":"quantitative","axis":{"title":null,"values":[0,100,200,300,400,500,600,700,800]}},
    "y":{"field":"v","type":"quantitative","axis":{"title":"Normalized Amplitude","values":[0,0.2,0.4,0.6,0.8,1.0,1.2],"format":".1f","titlePadding":8}},
    "color":{"datum":"Moving Average","type":"nominal"}}}
 ]
},
{
 "width":1132,"height":194,
 "layer":[
  {"data":{"values":[{"start":114.5,"end":130}]},"mark":{"type":"rect","color":"#ffa500","opacity":0.4},
   "encoding":{"x":{"field":"start","type":"quantitative","scale":{"domain":[0,800],"nice":false},"axis":{"title":"Time from Arrival (s)","titleFontSize":20,"titlePadding":12,"titleX":552,"values":[0,100,200,300,400,500,600,700,800]}},"x2":{"field":"end"}}},
  {"data":{"values":[{"pick":122}]},"mark":{"type":"rule","color":"#ffa500","strokeWidth":2},
   "encoding":{"x":{"field":"pick","type":"quantitative","axis":{"title":"Time from Arrival (s)","titleFontSize":20,"titlePadding":12,"titleX":552,"values":[0,100,200,300,400,500,600,700,800]}}}},
  {"data":{"name":"env"},"mark":{"type":"line","strokeWidth":2},
   "encoding":{"x":{"field":"t","type":"quantitative","axis":{"title":"Time from Arrival (s)","titleFontSize":20,"titlePadding":12,"titleX":552,"values":[0,100,200,300,400,500,600,700,800]}},
    "y":{"field":"b","type":"quantitative","scale":{"domain":[0,1.2],"nice":false},"axis":{"title":"Normalized Amplitude","values":[0,0.2,0.4,0.6,0.8,1.0,1.2],"format":".1f","titlePadding":8}},
    "color":{"datum":"A14S12 Envelope","type":"nominal","scale":{"domain":["A14S12 Envelope","Moving Average"],"range":["black","red"]},"legend":{"title":null}}}},
  {"data":{"name":"ma2"},"mark":{"type":"line","strokeWidth":2.6},
   "encoding":{"x":{"field":"t","type":"quantitative","axis":{"title":"Time from Arrival (s)","titleFontSize":20,"titlePadding":12,"titleX":552,"values":[0,100,200,300,400,500,600,700,800]}},
    "y":{"field":"v","type":"quantitative","axis":{"title":"Normalized Amplitude","values":[0,0.2,0.4,0.6,0.8,1.0,1.2],"format":".1f","titlePadding":8}},
    "color":{"datum":"Moving Average","type":"nominal"}}}
 ]
}
]
}
